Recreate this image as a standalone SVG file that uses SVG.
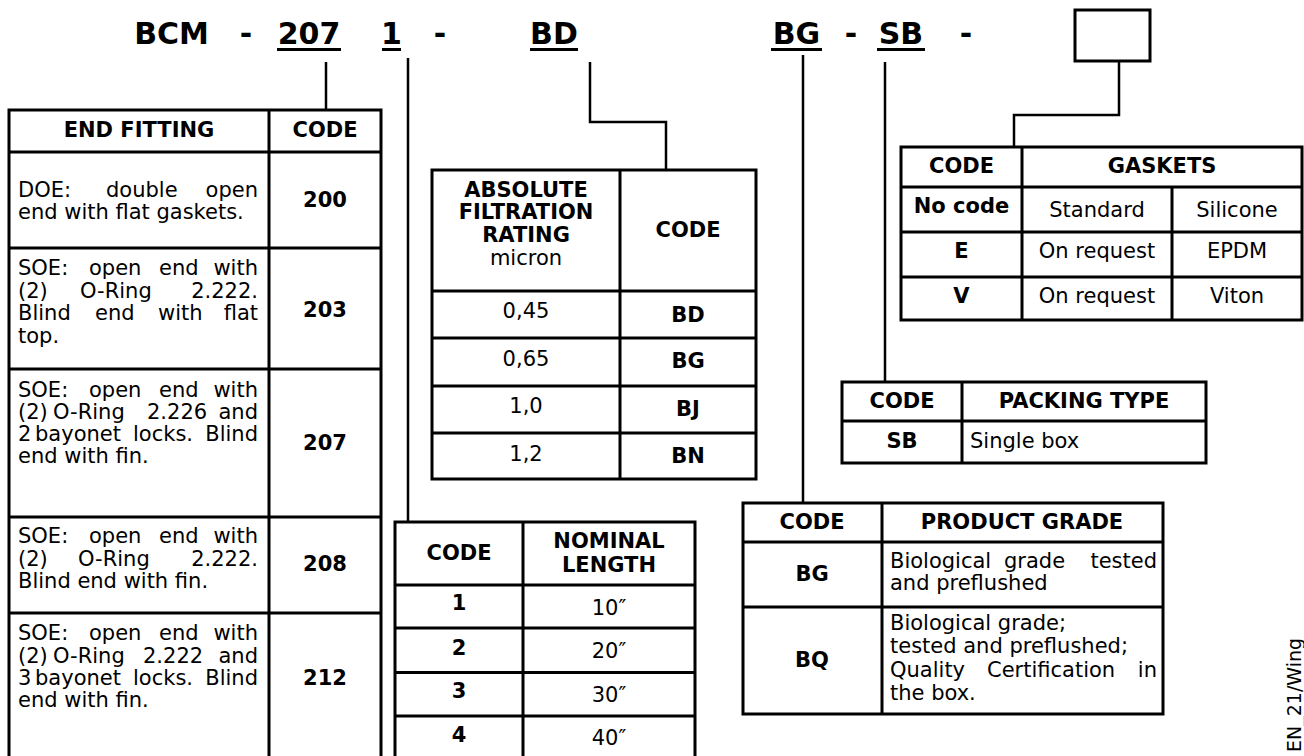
<svg xmlns="http://www.w3.org/2000/svg" width="1304" height="756" viewBox="0 0 1304 756">
<style>
text{font-family:"DejaVu Sans",Verdana,sans-serif;font-size:21px;fill:#000}
.b{font-weight:bold}
.c{text-anchor:middle}
.e{text-anchor:end}
.ttl{font-size:30px;font-weight:bold;text-anchor:middle}
.grid{fill:none;stroke:#000;stroke-width:3}
.conn{fill:none;stroke:#000;stroke-width:2.5}
.ul{fill:#000}
</style>
<rect width="1304" height="756" fill="#fff"/>
<g id="title">
<text class="ttl" x="171.5" y="44">BCM</text>
<text class="ttl" x="246" y="44">-</text>
<text class="ttl" x="309" y="44">207</text>
<rect class="ul" x="277" y="48" width="64" height="3"/>
<text class="ttl" x="391.5" y="44">1</text>
<rect class="ul" x="382" y="48" width="19" height="3"/>
<text class="ttl" x="440" y="44">-</text>
<text class="ttl" x="554" y="44">BD</text>
<rect class="ul" x="530" y="48" width="48" height="3"/>
<text class="ttl" x="796.5" y="44">BG</text>
<rect class="ul" x="771" y="48" width="51" height="3"/>
<text class="ttl" x="851" y="44">-</text>
<text class="ttl" x="901" y="44">SB</text>
<rect class="ul" x="877" y="48" width="48" height="3"/>
<text class="ttl" x="966" y="44">-</text>
</g>
<g id="option-box">
<rect class="grid" x="1075" y="10" width="75" height="51"/>
</g>
<g id="connectors">
<path class="conn" d="M326,62 V110"/>
<path class="conn" d="M408,58 V522"/>
<path class="conn" d="M590,62 V122 H666 V170"/>
<path class="conn" d="M803,55 V503"/>
<path class="conn" d="M885,62 V382"/>
<path class="conn" d="M1119,62 V115 H1014 V147"/>
</g>
<g id="end-fitting-table">
<path class="grid" d="M9,760 V110 H381 V760 M269,110 V760 M9,152 H381 M9,248 H381 M9,369 H381 M9,517 H381 M9,613 H381"/>
<text class="b c" x="139" y="137">END FITTING</text>
<text class="b c" x="325" y="137">CODE</text>
<text y="197"><tspan x="18">DOE:</tspan><tspan x="106">double</tspan></text>
<text class="e" x="258" y="197">open</text>
<text x="18" y="219">end with flat gaskets.</text>
<text class="b c" x="325" y="207">200</text>
<text y="275"><tspan x="18">SOE:</tspan><tspan x="89">open</tspan><tspan x="159">end</tspan></text>
<text class="e" x="258" y="275">with</text>
<text y="297.5"><tspan x="18">(2)</tspan><tspan x="80">O-Ring</tspan></text>
<text class="e" x="258" y="297.5">2.222.</text>
<text y="320"><tspan x="18">Blind</tspan><tspan x="95">end</tspan><tspan x="158">with</tspan></text>
<text class="e" x="258" y="320">flat</text>
<text x="18" y="342.5">top.</text>
<text class="b c" x="325" y="316.5">203</text>
<text y="397"><tspan x="18">SOE:</tspan><tspan x="89">open</tspan><tspan x="159">end</tspan></text>
<text class="e" x="258" y="397">with</text>
<text y="419"><tspan x="18">(2)</tspan><tspan x="53">O-Ring</tspan><tspan x="147">2.226</tspan></text>
<text class="e" x="258" y="419">and</text>
<text y="441"><tspan x="18">2</tspan><tspan x="35">bayonet</tspan><tspan x="133">locks.</tspan></text>
<text class="e" x="258" y="441">Blind</text>
<text x="18" y="463">end with fin.</text>
<text class="b c" x="325" y="450">207</text>
<text y="543"><tspan x="18">SOE:</tspan><tspan x="89">open</tspan><tspan x="159">end</tspan></text>
<text class="e" x="258" y="543">with</text>
<text y="565.5"><tspan x="18">(2)</tspan><tspan x="78">O-Ring</tspan></text>
<text class="e" x="258" y="565.5">2.222.</text>
<text x="18" y="588">Blind end with fin.</text>
<text class="b c" x="325" y="571">208</text>
<text y="640"><tspan x="18">SOE:</tspan><tspan x="89">open</tspan><tspan x="159">end</tspan></text>
<text class="e" x="258" y="640">with</text>
<text y="662.5"><tspan x="18">(2)</tspan><tspan x="53">O-Ring</tspan><tspan x="143">2.222</tspan></text>
<text class="e" x="258" y="662.5">and</text>
<text y="685"><tspan x="18">3</tspan><tspan x="35">bayonet</tspan><tspan x="133">locks.</tspan></text>
<text class="e" x="258" y="685">Blind</text>
<text x="18" y="707">end with fin.</text>
<text class="b c" x="325" y="685">212</text>
</g>
<g id="filtration-table">
<rect class="grid" x="432" y="170" width="324" height="309"/>
<path class="grid" d="M620,170 V479 M432,291 H756 M432,338 H756 M432,386 H756 M432,433 H756"/>
<text class="b c" x="526" y="197">ABSOLUTE</text>
<text class="b c" x="526" y="219">FILTRATION</text>
<text class="b c" x="526" y="242">RATING</text>
<text class="c" x="526" y="265">micron</text>
<text class="b c" x="688" y="237">CODE</text>
<text class="c" x="526" y="318">0,45</text>
<text class="b c" x="688" y="322">BD</text>
<text class="c" x="526" y="366">0,65</text>
<text class="b c" x="688" y="368">BG</text>
<text class="c" x="526" y="413">1,0</text>
<text class="b c" x="688" y="416">BJ</text>
<text class="c" x="526" y="461">1,2</text>
<text class="b c" x="688" y="463">BN</text>
</g>
<g id="nominal-length-table">
<path class="grid" d="M395,760 V522 H695 V760 M523,522 V760 M395,585 H695 M395,628 H695 M395,672.5 H695 M395,716 H695"/>
<text class="b c" x="459" y="560">CODE</text>
<text class="b c" x="609" y="548">NOMINAL</text>
<text class="b c" x="609" y="572">LENGTH</text>
<text class="b c" x="459" y="610">1</text>
<text class="c" x="609" y="615">10″</text>
<text class="b c" x="459" y="655">2</text>
<text class="c" x="609" y="658">20″</text>
<text class="b c" x="459" y="698">3</text>
<text class="c" x="609" y="702">30″</text>
<text class="b c" x="459" y="742">4</text>
<text class="c" x="609" y="745">40″</text>
</g>
<g id="product-grade-table">
<rect class="grid" x="743" y="503" width="420" height="211"/>
<path class="grid" d="M882,503 V714 M743,542 H1163 M743,607 H1163"/>
<text class="b c" x="812" y="529">CODE</text>
<text class="b c" x="1022" y="529">PRODUCT GRADE</text>
<text class="b c" x="812" y="581">BG</text>
<text y="568"><tspan x="890">Biological</tspan><tspan x="1004">grade</tspan></text>
<text class="e" x="1157" y="568">tested</text>
<text x="890" y="590">and preflushed</text>
<text class="b c" x="812" y="667">BQ</text>
<text x="890" y="630">Biological grade;</text>
<text x="890" y="653">tested and preflushed;</text>
<text y="677"><tspan x="890">Quality</tspan><tspan x="987">Certification</tspan></text>
<text class="e" x="1157" y="677">in</text>
<text x="890" y="700">the box.</text>
</g>
<g id="packing-table">
<rect class="grid" x="842" y="382" width="364" height="81"/>
<path class="grid" d="M962,382 V463 M842,421 H1206"/>
<text class="b c" x="902" y="408">CODE</text>
<text class="b c" x="1084" y="408">PACKING TYPE</text>
<text class="b c" x="902" y="448">SB</text>
<text x="970" y="448">Single box</text>
</g>
<g id="gaskets-table">
<rect class="grid" x="901" y="147" width="401" height="173"/>
<path class="grid" d="M1022,147 V320 M1172,187 V320 M901,187 H1302 M901,232 H1302 M901,277 H1302"/>
<text class="b c" x="961.5" y="173">CODE</text>
<text class="b c" x="1162" y="173">GASKETS</text>
<text class="b c" x="961.5" y="213">No code</text>
<text class="c" x="1097" y="217">Standard</text>
<text class="c" x="1237" y="217">Silicone</text>
<text class="b c" x="961.5" y="258">E</text>
<text class="c" x="1097" y="258">On request</text>
<text class="c" x="1237" y="258">EPDM</text>
<text class="b c" x="961.5" y="303">V</text>
<text class="c" x="1097" y="303">On request</text>
<text class="c" x="1237" y="303">Viton</text>
</g>
<g id="side-note">
<text transform="translate(1301,752) rotate(-90)" style="font-size:19px">EN_21/Wing</text>
</g>
</svg>
